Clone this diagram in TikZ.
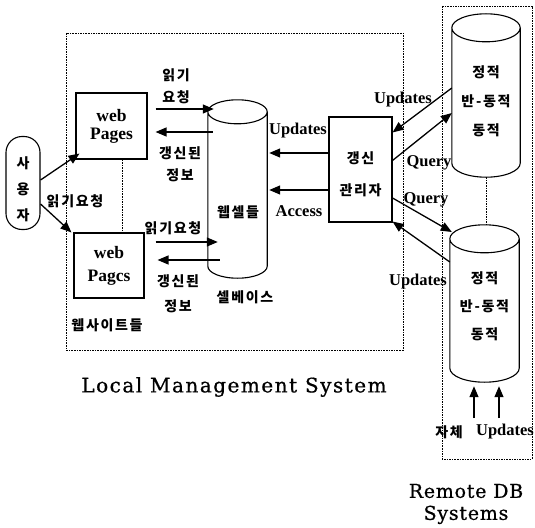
\documentclass[tikz,border=0pt]{standalone}
\usepackage{fontspec}
\setmainfont{Liberation Serif}
\newfontfamily\kr{Noto Sans CJK KR}[LetterSpace=12]
\newfontfamily\wideserif{DejaVu Serif}[FakeBold=0.8]
\usetikzlibrary{arrows.meta,positioning,shapes.geometric,calc}

% cylinder outline round a store node: #1 node name, #2 end radius
\newcommand\storeShape[2]{%
  \draw[line width=1.1pt] let \p1=(#1.west), \p2=(#1.east) in
    ([yshift=-#2]#1.north west) -- ([yshift=#2]#1.south west)
    arc[start angle=180, end angle=360, x radius={(\x2-\x1)/2}, y radius=#2]
    -- ([yshift=-#2]#1.north east)
    ([yshift=-#2]#1.north) ellipse[x radius={(\x2-\x1)/2}, y radius=#2];
}

\begin{document}
\begin{tikzpicture}[
  x=1pt, y=-1pt,
  every node/.style={inner sep=0pt},
  box/.style={draw, line width=1.1pt, fill=white},
  userBox/.style={box, rounded corners=16pt, minimum width=34pt,
    minimum height=93pt},
  pageBox/.style={box, minimum width=71pt, minimum height=66pt,
    align=center, font=\fontsize{17.5}{18}\selectfont\bfseries},
  store/.style={rectangle},
  zone/.style={line width=0.8pt, dash pattern=on 1.6pt off 1pt},
  arr/.style={line width=1.3pt, -{Triangle[length=11pt,width=9pt]}},
  krText/.style={font=\fontsize{14}{22}\selectfont\kr\bfseries, align=center},
  enText/.style={font=\fontsize{16.5}{18}\selectfont\bfseries},
  bigText/.style={font=\fontsize{20}{22}\selectfont\wideserif\addfontfeature{LetterSpace=7.5},
    align=center}
]
\useasboundingbox (0,0) rectangle (535,527);

% dotted zones
\draw[zone] (66,33) rectangle (403,350);
\draw[zone] (442,6) rectangle (532,459);

% nodes
\node[userBox] (user) at (23,183) {};
\node[pageBox] (page1) at (111.5,126) {web\\Pages};
\node[pageBox, minimum width=70pt, minimum height=65pt] (page2) at (109,265.5)
  {web\\[5pt]Pagcs};
\node[store, minimum width=59pt, minimum height=178pt] (cache) at (237.5,189) {};
\node[box, minimum width=63pt, minimum height=105pt] (manager) at (360.5,169.5) {};
\node[store, minimum width=68pt, minimum height=163pt] (remote1) at (486,95.5) {};
\node[store, minimum width=69pt, minimum height=157pt] (remote2) at (484.5,303.5) {};
\storeShape{cache}{12pt}
\storeShape{remote1}{14pt}
\storeShape{remote2}{14pt}

% texts inside nodes
\node[krText, font=\fontsize{14}{26}\selectfont\kr\bfseries] (userText)
  at (23,189) {사\\용\\자};
\node[krText, font=\fontsize{14}{32}\selectfont\kr\bfseries] (managerText)
  at (360.5,174) {갱신\\관리자};
\node[krText] (cacheText) at (238,212) {웹셀들};
\node[krText, font=\fontsize{14}{29}\selectfont\kr\bfseries] (remote1Text)
  at (486,101) {정적\\반-동적\\동적};
\node[krText, font=\fontsize{14}{28}\selectfont\kr\bfseries] (remote2Text)
  at (484.5,306) {정적\\반-동적\\동적};

\draw[zone] ([xshift=10.5pt]page1.south) -- ([xshift=10.5pt]page1.south |- page2.north);
\draw[zone] (remote1.south) -- (remote1.south |- remote2.north);

% user to pages
\draw[arr] ([yshift=3pt]user.east) -- ([xshift=4pt,yshift=6pt]page1.south west);
\draw[arr] ([yshift=-21pt]user.east) -- ([xshift=-2pt]page2.north west);

% pages and cache
\draw[arr, shorten >=2pt] ([xshift=8pt,yshift=17pt]page1.east)
  -- ([xshift=8pt,yshift=17pt]page1.east -| cache.west);
\draw[arr, shorten <=3pt] ([xshift=8pt,yshift=-6pt]page1.east -| cache.west)
  -- ([xshift=8pt,yshift=-6pt]page1.east);
\draw[arr, shorten >=1pt] ([xshift=11pt,yshift=23.5pt]page2.east)
  -- ([xshift=11pt,yshift=23.5pt]page2.east -| cache.west);
\draw[arr, shorten <=1pt] ([xshift=13pt,yshift=5.5pt]page2.east -| cache.west)
  -- ([xshift=13pt,yshift=5.5pt]page2.east);

% manager and cache
\draw[arr, shorten >=2pt] ([yshift=16.5pt]manager.west)
  -- ([yshift=16.5pt]manager.west -| cache.east);
\draw[arr, shorten >=2pt] ([yshift=-20.5pt]manager.west)
  -- ([yshift=-20.5pt]manager.west -| cache.east);

% manager and remote stores
\draw[arr] ([yshift=7.5pt]remote1.west) -- ([yshift=-16pt]manager.north east);
\draw[arr] ([yshift=-44pt]manager.north east) -- ([yshift=-17.5pt]remote1.west);
\draw[arr] ([yshift=-28.5pt]manager.east) -- ([xshift=2pt,yshift=71.5pt]remote2.west);
\draw[arr] ([yshift=41.5pt]remote2.west) -- ([yshift=1pt]manager.south east);

% own updates
\coordinate (selfA) at (474,418);
\coordinate (selfB) at (499,418);
\draw[arr, shorten >=4pt] (selfA) -- (selfA |- remote2.south);
\draw[arr, shorten >=4pt] (selfB) -- (selfB |- remote2.south);

% labels
\node[krText] (readTop) at (176,86) {읽기\\요청};
\node[krText] (newTop) at (180,164) {갱신된\\정보};
\node[krText] (readLow) at (173,228) {읽기요청};
\node[krText] (newLow) at (178,294) {갱신된\\[3pt]정보};
\node[krText] (readUser) at (75,201) {읽기요청};
\node[krText] (sites) at (107,325) {웹사이트들};
\node[krText] (cacheBase) at (245,297) {셀베이스};
\node[enText] (updLocal) at (298,131) {Updates};
\node[enText] (access) at (299,211) {Access};
\node[enText] (updR1) at (403,100) {Updates};
\node[enText] (queryR1) at (429,163) {Query};
\node[enText] (queryR2) at (426,200) {Query};
\node[enText] (updR2) at (418,282) {Updates};
\node[krText] (selfText) at (449,432) {자체};
\node[enText] (selfUpd) at (505,432) {Updates};
\node[bigText] (localName) at (234,387) {Local Management System};
\node[bigText, font=\fontsize{19}{22}\selectfont\wideserif\addfontfeature{LetterSpace=4}]
  (remoteName) at (466,504) {Remote DB\\Systems};
\end{tikzpicture}
\end{document}
